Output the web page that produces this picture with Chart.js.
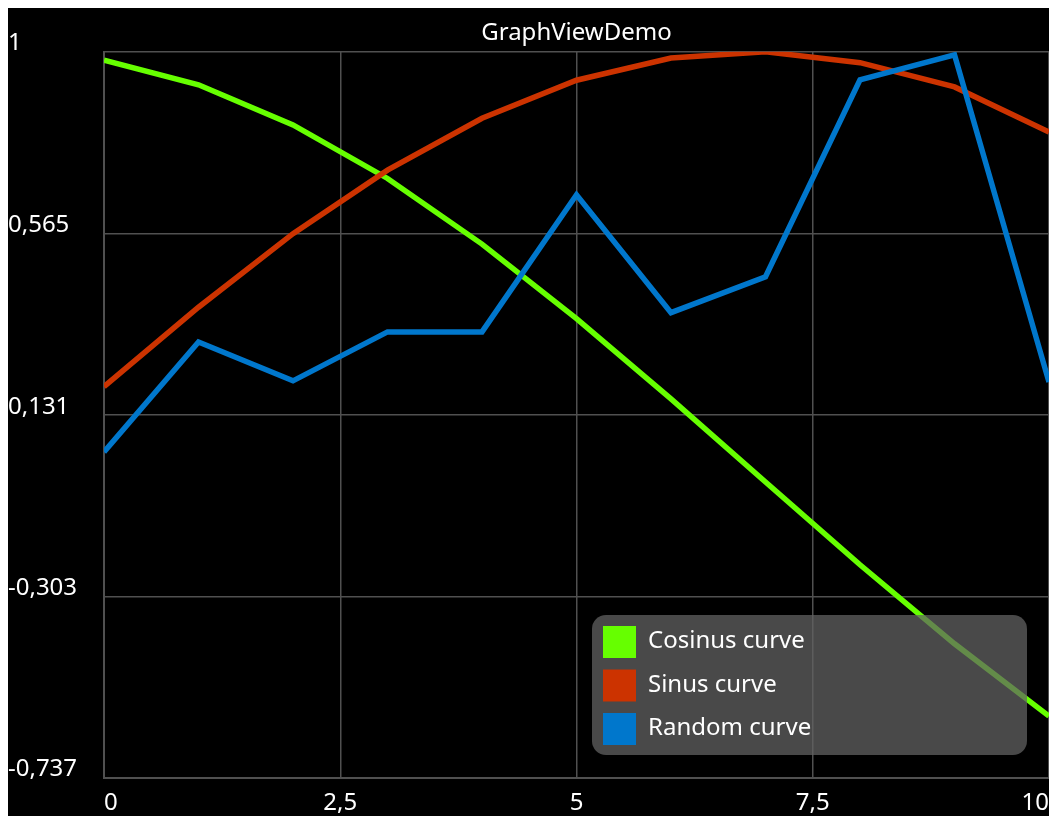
<!DOCTYPE html>
<html>
<head>
<meta charset="utf-8">
<title>GraphViewDemo</title>
<script src="https://cdn.jsdelivr.net/npm/chart.js@4.4.1/dist/chart.umd.min.js"></script>
<style>
  html, body { margin: 0; padding: 0; background: #fff; overflow: hidden; }
  #wrap { position: absolute; left: 8px; top: 8px; width: 1041px; height: 808px; background: #000; }
</style>
</head>
<body>
<div id="wrap"><canvas id="graph"></canvas></div>
<script>
// values
const xValues = [0, 1, 2, 3, 4, 5, 6, 7, 8, 9, 10];
const cosValues = [0.98, 0.921, 0.825, 0.697, 0.54, 0.362, 0.17, -0.029, -0.227, -0.416, -0.589];
const sinValues = [0.199, 0.389, 0.565, 0.717, 0.841, 0.932, 0.985, 1.0, 0.974, 0.916, 0.808];
const randomValues = [0.043, 0.306, 0.213, 0.33, 0.33, 0.658, 0.376, 0.462, 0.933, 0.993, 0.21];
const seriesLabels = ['Cosinus curve', 'Sinus curve', 'Random curve'];
const xTicks = [0, 2.5, 5, 7.5, 10];
const xTickLabels = ['0', '2,5', '5', '7,5', '10'];
const yTicks = [1, 0.565, 0.131, -0.303, -0.737];
const yTickLabels = ['1', '0,565', '0,131', '-0,303', '-0,737'];

const gridColor = '#505050';
const fontFamily = "'Noto Sans', 'Open Sans', sans-serif";

Chart.defaults.font.family = fontFamily;
Chart.defaults.font.size = 24;
Chart.defaults.color = '#fff';

function points(values) {
    return xValues.map((x, i) => ({ x: x, y: values[i] }));
}

// GraphView style legend: grey translucent box inside the plot, bottom right
const boxLegend = {
    id: 'boxLegend',
    afterDraw(chart) {
        const { ctx, chartArea } = chart;
        const w = 435, h = 140;
        const x = chartArea.right - 22 - w;
        const y = chartArea.bottom - 23 - h;
        ctx.save();
        ctx.fillStyle = 'rgba(98, 98, 98, 0.74)';
        ctx.beginPath();
        ctx.roundRect(x, y, w, h, 14);
        ctx.fill();
        ctx.font = '24px ' + fontFamily;
        ctx.textBaseline = 'alphabetic';
        chart.data.datasets.forEach((ds, i) => {
            const rowTop = y + 11 + i * 43.5;
            ctx.fillStyle = ds.borderColor;
            ctx.fillRect(x + 11, rowTop, 33, 32);
            ctx.fillStyle = '#fff';
            ctx.fillText(ds.label, x + 56, rowTop + 22);
        });
        ctx.restore();
    }
};

const ctx = document.getElementById('graph').getContext('2d');
new Chart(ctx, {
    type: 'line',
    data: {
        datasets: [
            { label: seriesLabels[0], data: points(cosValues), borderColor: '#66ff00', order: 3 },
            { label: seriesLabels[1], data: points(sinValues), borderColor: '#cc3300', order: 2 },
            { label: seriesLabels[2], data: points(randomValues), borderColor: '#0077cc', order: 1 }
        ]
    },
    options: {
        responsive: true,
        maintainAspectRatio: false,
        animation: false,
        layout: { padding: 0 },
        elements: {
            line: { borderWidth: 5.5, tension: 0 },
            point: { radius: 0, hoverRadius: 0 }
        },
        plugins: {
            legend: { display: false },
            tooltip: { enabled: false },
            title: {
                display: true,
                text: 'GraphViewDemo',
                color: '#fff',
                fullSize: false,
                font: { size: 24, weight: 'normal' },
                padding: { top: 11, bottom: 4 }
            }
        },
        scales: {
            x: {
                type: 'linear',
                min: xTicks[0],
                max: xTicks[xTicks.length - 1],
                afterBuildTicks: s => { s.ticks = xTicks.map(v => ({ value: v })); },
                afterFit: s => { s.height = 38; },
                grid: { color: gridColor, lineWidth: 1.5, drawTicks: true, tickLength: 11, tickColor: 'transparent' },
                border: { color: gridColor, width: 2 },
                ticks: {
                    color: '#fff',
                    align: 'inner',
                    padding: 0,
                    maxRotation: 0,
                    autoSkip: false,
                    callback: v => xTickLabels[xTicks.indexOf(v)]
                }
            },
            y: {
                min: yTicks[yTicks.length - 1],
                max: yTicks[0],
                afterBuildTicks: s => { s.ticks = yTicks.map(v => ({ value: v })); },
                afterFit: s => { s.width = 96; },
                grid: { color: gridColor, lineWidth: 1.5, drawTicks: false },
                border: { color: gridColor, width: 2 },
                ticks: {
                    color: '#fff',
                    crossAlign: 'far',
                    padding: 0,
                    autoSkip: false,
                    font: { size: 24, lineHeight: 0.7 },
                    // second empty line lifts the label above its grid line
                    callback: v => [yTickLabels[yTicks.indexOf(v)], '']
                }
            }
        }
    },
    plugins: [boxLegend]
});
</script>
</body>
</html>
